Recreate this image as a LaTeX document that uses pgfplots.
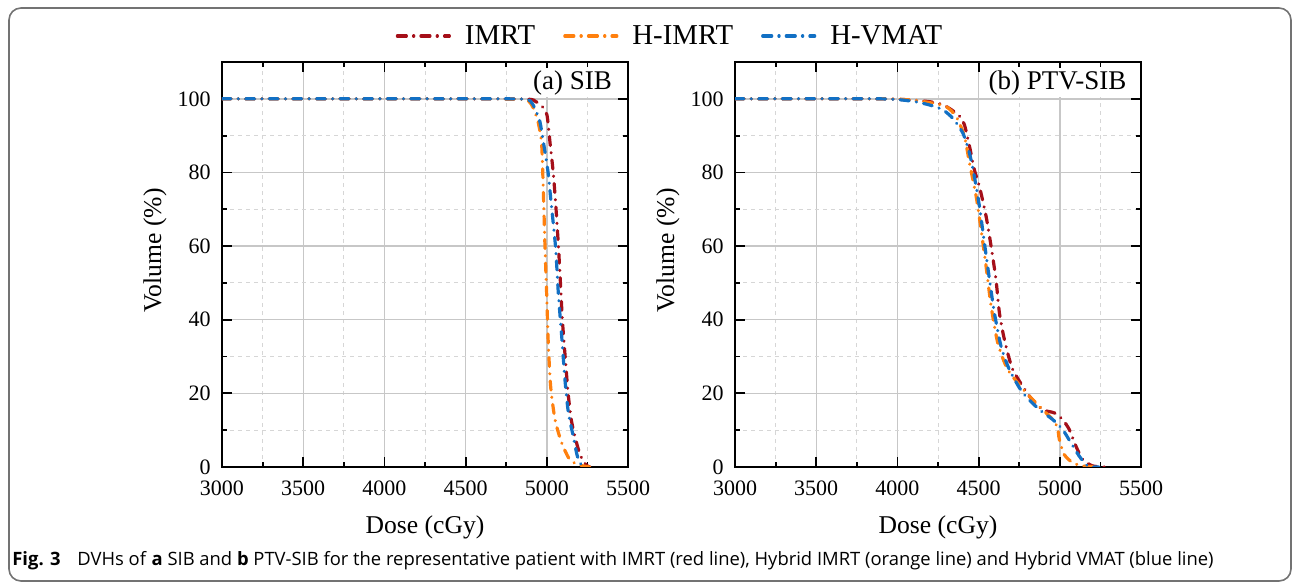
\documentclass[border=0pt]{standalone}
\usepackage[no-math]{fontspec}
\setmainfont{Liberation Serif}
\newfontfamily\capfont{Open Sans}
\usepackage{pgfplots}
\pgfplotsset{compat=1.18}

\definecolor{cimrt}{RGB}{165,15,25}
\definecolor{chimrt}{RGB}{255,128,14}
\definecolor{chvmat}{RGB}{18,112,196}

\pgfplotsset{
  dvh/.style={
    scale only axis, width=203pt, height=202.5pt,
    xmin=3000, xmax=5500, ymin=0, ymax=110,
    xtick={3000,3500,4000,4500,5000,5500},
    xticklabels={3000,3500,4000,4500,5000,5500},
    ytick={0,20,40,60,80,100},
    yticklabels={0,20,40,60,80,100},
    minor x tick num=1, minor y tick num=1,
    grid=both,
    major grid style={black!22, line width=0.7pt},
    minor grid style={black!16, line width=0.5pt, dash pattern=on 2pt off 2pt},
    axis line style={line width=1pt},
    every tick/.style={black, line width=0.9pt},
    major tick length=5pt, minor tick length=2.5pt,
    tick align=inside,
    tick label style={font=\rmfamily\fontsize{11}{13}\selectfont, inner sep=0.5pt},
    yticklabel style={xshift=-5pt},
    xticklabel style={yshift=-6pt},
    label style={font=\rmfamily\fontsize{12.8}{14}\selectfont},
    xlabel={Dose (cGy)}, ylabel={Volume (\%)},
    xlabel style={at={(axis description cs:0.5,-0.148)}, anchor=center},
    ylabel style={at={(axis description cs:-0.165,0.535)}, anchor=center},
    every axis plot/.append style={line width=1.6pt, line cap=round,
      dash pattern=on 4.5pt off 3.6pt on 0.1pt off 3.6pt, smooth, tension=0.4},
  }
}

\begin{document}
\begin{tikzpicture}
\useasboundingbox (-111pt,-57.5pt) rectangle (536.5pt,233.5pt);
\draw[rounded corners=6pt, black!55, line width=0.8pt] (-106.5pt,-57pt) rectangle (534.5pt,229.5pt);

\begin{axis}[dvh, at={(0pt,0pt)}, anchor=south west,
  legend columns=3,
  legend style={at={(axis description cs:1.106,1.064)}, anchor=center,
    draw=none, fill=none, font=\rmfamily\fontsize{14.4}{16}\selectfont,
    /tikz/every even column/.append style={column sep=12pt}},
  legend image code/.code={\draw[#1] (0pt,0pt) -- (26pt,0pt); \path (0pt,0pt) (31pt,0pt);}]
\addplot[cimrt] coordinates {
  (3000,100) (4500,100) (4880,99.9) (4930,99.3) (4970,98.0) (5001,95.6)
  (5020,88) (5040,79.8) (5057,70) (5072,59.7) (5084,50) (5096,39.9)
  (5113,30) (5131,20.1) (5150,13) (5174,8.1) (5200,4) (5225,1.5)
  (5250,0.3) (5266,0)
};
\addlegendentry{IMRT}
\addplot[chimrt] coordinates {
  (3000,100) (4500,100) (4850,99.9) (4890,99.3) (4915,97.7) (4945,94)
  (4968,87.9) (4979,74.4) (4989,59.7) (4999,47.2) (5009,33.7) (5024,21.7)
  (5051,12.8) (5092,6.5) (5143,1.9) (5205,0.5) (5266,0)
};
\addlegendentry{H-IMRT}
\addplot[chvmat] coordinates {
  (3000,100) (4500,100) (4860,99.9) (4909,98.8) (4935,96.5) (4958,93.7)
  (4980,88) (5008,80) (5025,72.5) (5054,59.7) (5071,47.2) (5092,35.3)
  (5112,23.6) (5133,14.7) (5164,8.1) (5185,3.5) (5205,1) (5246,0)
};
\addlegendentry{H-VMAT}
\node[anchor=north east, fill=white, inner sep=1pt,
  font=\rmfamily\fontsize{13.5}{15}\selectfont] at (rel axis cs:0.966,0.985) {(a) SIB};
\end{axis}

\begin{axis}[dvh, at={(256.5pt,0pt)}, anchor=south west]
\addplot[cimrt] coordinates {
  (3000,100) (3900,100) (4100,99.6) (4200,99.2) (4280,98.4) (4340,96.8)
  (4382,95.3) (4413,92.9) (4444,87.1) (4474,80.7) (4505,76.2) (4546,68.1)
  (4577,59.9) (4607,50.9) (4628,41.9) (4659,34.6) (4710,26.5) (4812,19.3)
  (4894,15.6) (4966,14.7) (5017,12.9) (5058,10.2) (5099,5.7) (5140,2.1)
  (5201,0.3) (5283,0)
};
\addplot[chimrt] coordinates {
  (3000,100) (3900,100) (4100,99.6) (4218,98.8) (4300,97.9) (4362,95.2)
  (4413,89.8) (4444,82.5) (4485,73.5) (4515,64.5) (4546,54.5) (4577,43.7)
  (4618,33.7) (4679,26.5) (4792,20.2) (4894,15.6) (4956,12.9) (4986,10.7)
  (4997,7.5) (5027,3.4) (5078,1.2) (5140,0.3) (5242,0)
};
\addplot[chvmat] coordinates {
  (3000,100) (3890,100) (4096,99.3) (4200,98.3) (4280,97) (4341,94.7)
  (4403,90.7) (4444,85.2) (4474,78.9) (4505,70.8) (4536,60.8) (4567,50.9)
  (4597,41.9) (4638,32.8) (4689,26.5) (4771,20.2) (4874,15.6) (4956,12.9)
  (5017,10.2) (5068,6.6) (5119,3) (5171,0.3) (5242,0)
};
\node[anchor=north east, fill=white, inner sep=1pt,
  font=\rmfamily\fontsize{13.5}{15}\selectfont] at (rel axis cs:0.97,0.985) {(b) PTV-SIB};
\end{axis}

\node[anchor=base west, inner sep=0pt, font=\capfont\fontsize{9.2}{11}\selectfont]
  at (-105pt,-49.5pt) {\textbf{Fig. 3}\hspace{6pt} DVHs of \textbf{a} SIB and \textbf{b} PTV-SIB for the representative patient with IMRT (red line), Hybrid IMRT (orange line) and Hybrid VMAT (blue line)};
\end{tikzpicture}
\end{document}
